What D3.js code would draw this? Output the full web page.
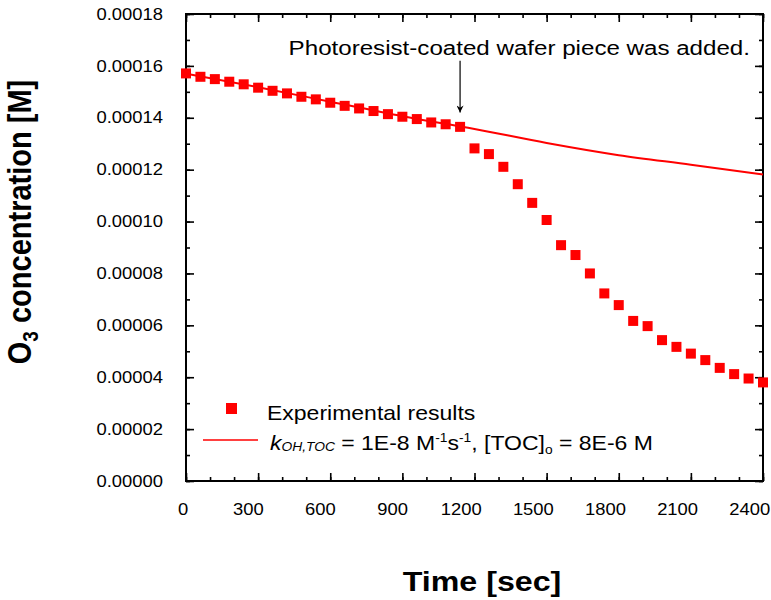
<!DOCTYPE html>
<html>
<head>
<meta charset="utf-8">
<script src="https://cdn.jsdelivr.net/npm/d3@7"></script>
<style>
  body { margin: 0; background: #fff; }
  text { font-family: Arial, "Liberation Sans", sans-serif; fill: #000; }
</style>
</head>
<body>
<svg id="chart"></svg>
<script>
// data
const times = d3.range(0, 2401, 60);
const o3Measured = [
  1.571e-4, 1.558e-4, 1.549e-4, 1.539e-4, 1.529e-4, 1.516e-4, 1.504e-4, 1.494e-4,
  1.481e-4, 1.471e-4, 1.458e-4, 1.446e-4, 1.436e-4, 1.426e-4, 1.414e-4, 1.404e-4,
  1.395e-4, 1.382e-4, 1.375e-4, 1.365e-4,
  1.282e-4, 1.260e-4, 1.211e-4, 1.144e-4, 1.072e-4, 1.006e-4, 0.909e-4, 0.871e-4,
  0.800e-4, 0.723e-4, 0.678e-4, 0.617e-4, 0.597e-4, 0.543e-4, 0.517e-4, 0.491e-4,
  0.466e-4, 0.436e-4, 0.412e-4, 0.395e-4, 0.380e-4
];
const modelTimes = [0, 300, 600, 900, 1200, 1500, 1800, 2100, 2400];
const o3Model = [1.570e-4, 1.518e-4, 1.462e-4, 1.406e-4, 1.357e-4, 1.303e-4, 1.256e-4, 1.219e-4, 1.181e-4];

const xTicks = d3.range(0, 2401, 300);
const yTicks = d3.range(0, 0.000181, 0.00002);
const annotText = "Photoresist-coated wafer piece was added.";
const annotTime = 1140;

const width = 771, height = 600;
const stretch = 1.15; // text in the picture is a bit wide

const svg = d3.select("#chart").attr("width", width).attr("height", height);

const x = d3.scaleLinear().domain([0, 2400]).range([186, 763]);
const y = d3.scaleLinear().domain([0, 0.00018]).range([481, 14]);

// axes, ticks inside on all four sides
const fmtY = d3.format(".5f");
function styleAxis(g) {
  g.select(".domain").remove();
  g.selectAll("line").attr("stroke", "#000").attr("stroke-width", 1.6);
}

svg.append("g").attr("transform", `translate(0,${y(0)})`)
  .call(d3.axisBottom(x).tickValues(xTicks).tickSize(-8).tickPadding(23).tickFormat(d3.format("d")))
  .call(styleAxis)
  .call(g => g.selectAll("text")
    .attr("font-size", 16)
    .attr("transform", `scale(${stretch},1)`)
    .attr("dx", d => -3 * String(d).length));
svg.append("g").attr("transform", `translate(0,${y(0)})`)
  .call(d3.axisBottom(x).tickValues(d3.range(0, 2401, 100)).tickSize(-4).tickFormat(""))
  .call(styleAxis);
svg.append("g").attr("transform", `translate(0,${y(0.00018)})`)
  .call(d3.axisTop(x).tickValues(xTicks).tickSize(-8).tickFormat(""))
  .call(styleAxis);
svg.append("g").attr("transform", `translate(0,${y(0.00018)})`)
  .call(d3.axisTop(x).tickValues(d3.range(0, 2401, 100)).tickSize(-4).tickFormat(""))
  .call(styleAxis);

svg.append("g").attr("transform", `translate(${x(0)},0)`)
  .call(d3.axisLeft(y).tickValues(yTicks).tickSize(-8).tickPadding(20).tickFormat(fmtY))
  .call(styleAxis)
  .call(g => g.selectAll("text")
    .attr("font-size", 16)
    .attr("transform", `scale(${stretch},1)`));
svg.append("g").attr("transform", `translate(${x(0)},0)`)
  .call(d3.axisLeft(y).tickValues(d3.range(0, 0.000181, 0.00001)).tickSize(-4).tickFormat(""))
  .call(styleAxis);
svg.append("g").attr("transform", `translate(${x(2400)},0)`)
  .call(d3.axisRight(y).tickValues(yTicks).tickSize(-8).tickFormat(""))
  .call(styleAxis);
svg.append("g").attr("transform", `translate(${x(2400)},0)`)
  .call(d3.axisRight(y).tickValues(d3.range(0, 0.000181, 0.00001)).tickSize(-4).tickFormat(""))
  .call(styleAxis);

// frame
svg.append("rect")
  .attr("x", x(0)).attr("y", y(0.00018))
  .attr("width", x(2400) - x(0)).attr("height", y(0) - y(0.00018))
  .attr("fill", "none").attr("stroke", "#000").attr("stroke-width", 2);

// model line
const line = d3.line()
  .x((d, i) => x(modelTimes[i]))
  .y(d => y(d))
  .curve(d3.curveMonotoneX);
svg.append("path")
  .datum(o3Model)
  .attr("d", line)
  .attr("fill", "none")
  .attr("stroke", "#ff0000")
  .attr("stroke-width", 2);

// measured points
const sq = 10;
svg.append("g").selectAll("rect")
  .data(o3Measured)
  .join("rect")
  .attr("x", (d, i) => x(times[i]) - sq / 2)
  .attr("y", d => y(d) - sq / 2)
  .attr("width", sq).attr("height", sq)
  .attr("fill", "#ff0000");

// annotation arrow
svg.append("defs").append("marker")
  .attr("id", "head")
  .attr("viewBox", "0 0 10 10")
  .attr("refX", 10).attr("refY", 5)
  .attr("markerWidth", 9).attr("markerHeight", 7)
  .attr("markerUnits", "userSpaceOnUse")
  .attr("orient", "auto")
  .append("path").attr("d", "M0,0L10,5L0,10L3,5Z").attr("fill", "#000");

svg.append("line")
  .attr("x1", x(annotTime)).attr("x2", x(annotTime))
  .attr("y1", y(0.000162)).attr("y2", y(0.000142))
  .attr("stroke", "#000").attr("stroke-width", 1.2)
  .attr("marker-end", "url(#head)");

svg.append("text")
  .attr("transform", `translate(${x(2400) - 13},${y(0.000162) - 6}) scale(${stretch},1)`)
  .attr("text-anchor", "end")
  .attr("font-size", 21)
  .text(annotText);

// legend
const leg = svg.append("g");
leg.append("rect")
  .attr("x", 226).attr("y", 403)
  .attr("width", 11).attr("height", 11)
  .attr("fill", "#ff0000");
leg.append("text")
  .attr("transform", `translate(267,420) scale(${stretch},1)`)
  .attr("font-size", 20)
  .text("Experimental results");
leg.append("line")
  .attr("x1", 203).attr("x2", 258)
  .attr("y1", 440).attr("y2", 440)
  .attr("stroke", "#ff0000").attr("stroke-width", 1.5);

const t2 = leg.append("text")
  .attr("transform", `translate(270,450) scale(${stretch},1)`)
  .attr("font-size", 20);
t2.append("tspan").attr("font-style", "italic").text("k");
t2.append("tspan").attr("font-style", "italic").attr("font-size", 12).attr("dy", 1).text("OH,TOC");
t2.append("tspan").attr("dy", -1).text(" = 1E-8 M");
t2.append("tspan").attr("font-size", 12).attr("dy", -8).text("-1");
t2.append("tspan").attr("dy", 8).text("s");
t2.append("tspan").attr("font-size", 12).attr("dy", -8).text("-1");
t2.append("tspan").attr("dy", 8).text(", [TOC]");
t2.append("tspan").attr("font-size", 12).attr("dy", 4).text("o");
t2.append("tspan").attr("dy", -4).text(" = 8E-6 M");

// axis titles
svg.append("text")
  .attr("transform", `translate(482,591) scale(${stretch},1)`)
  .attr("text-anchor", "middle")
  .attr("font-size", 28).attr("font-weight", "bold")
  .text("Time [sec]");

const yt = svg.append("text")
  .attr("transform", `translate(31,222) scale(${stretch},1) rotate(-90)`)
  .attr("text-anchor", "middle")
  .attr("font-size", 29).attr("font-weight", "bold");
yt.append("tspan").text("O");
yt.append("tspan").attr("font-size", 19).attr("dy", 6).text("3");
yt.append("tspan").attr("dy", -6).text(" concentration [M]");
</script>
</body>
</html>
